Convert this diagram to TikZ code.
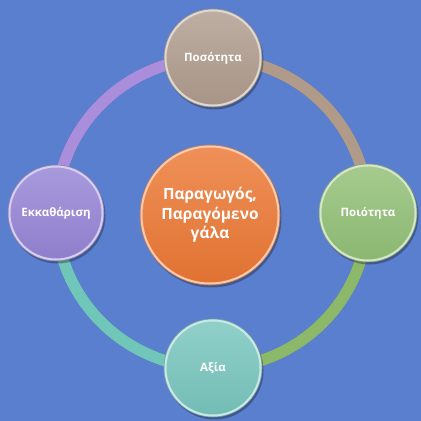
\documentclass[tikz,border=0pt]{standalone}
\usepackage{fontspec}
\setmainfont{Open Sans}
\pgfdeclarelayer{back}
\pgfdeclarelayer{bg}
\pgfsetlayers{back,bg,main}
\definecolor{bgblue}{RGB}{91,127,207}
\definecolor{ctaupe}{RGB}{176,156,142}
\definecolor{cgreen}{RGB}{146,192,118}
\definecolor{cteal}{RGB}{120,198,190}
\definecolor{cpurple}{RGB}{150,132,214}
\definecolor{corange}{RGB}{236,120,52}
\definecolor{ataupe}{RGB}{176,154,138}
\definecolor{agreen}{RGB}{140,184,106}
\definecolor{ateal}{RGB}{112,198,184}
\definecolor{apurple}{RGB}{170,142,220}
\tikzset{
  x=1pt,y=1pt,
  ball/.style={circle, minimum size=#1, inner sep=0pt, text=white,
    font=\bfseries\fontsize{11.5}{14}\selectfont, align=center},
  ringarc/.style={line width=11.5pt, line cap=butt}
}
\newcommand{\ballfill}[3]{%
  \fill[black, opacity=0.3] ([xshift=1.5pt,yshift=-2.5pt]#1) circle[radius=#3];
  \shade[top color=#2!82!white, bottom color=#2!95!black] (#1) circle[radius=#3];
  \draw[#2!60!black!70, line width=0.6pt] (#1) circle[radius=#3];
  \draw[#2!40!white, line width=2pt] (#1) circle[radius=#3-1.5];
}
\begin{document}
\begin{tikzpicture}
\begin{pgfonlayer}{back}
\fill[bgblue] (0,0) rectangle (421,421);
\end{pgfonlayer}
\useasboundingbox (0,0) rectangle (421,421);
\node[ball=98pt] (top) at (213,363) {Ποσότητα};
\node[ball=98pt] (right) at (368,208) {Ποιότητα};
\node[ball=98pt] (bottom) at (213,53) {Αξία};
\node[ball=96pt] (left) at (56,208) {Εκκαθάριση};
\node[ball=140pt, font=\bfseries\fontsize{15.5}{19.5}\selectfont] (center) at (210,206) {Παραγωγός,\\Παραγόμενο\\γάλα};
\begin{pgfonlayer}{bg}
  \draw[ringarc, black, opacity=0.2, xshift=1pt, yshift=-1.5pt] (top.center) to[out=0,in=90] (right.center) to[out=-90,in=0] (bottom.center) to[out=180,in=-90] (left.center) to[out=90,in=180] (top.center);
  \draw[ringarc, ataupe] (top.center) to[out=0,in=90] (right.center);
  \draw[ringarc, agreen] (right.center) to[out=-90,in=0] (bottom.center);
  \draw[ringarc, ateal] (bottom.center) to[out=180,in=-90] (left.center);
  \draw[ringarc, apurple] (left.center) to[out=90,in=180] (top.center);
  \ballfill{top.center}{ctaupe}{49}
  \ballfill{right.center}{cgreen}{49}
  \ballfill{bottom.center}{cteal}{49}
  \ballfill{left.center}{cpurple}{48}
  \ballfill{center.center}{corange}{70}
\end{pgfonlayer}
\end{tikzpicture}
\end{document}
